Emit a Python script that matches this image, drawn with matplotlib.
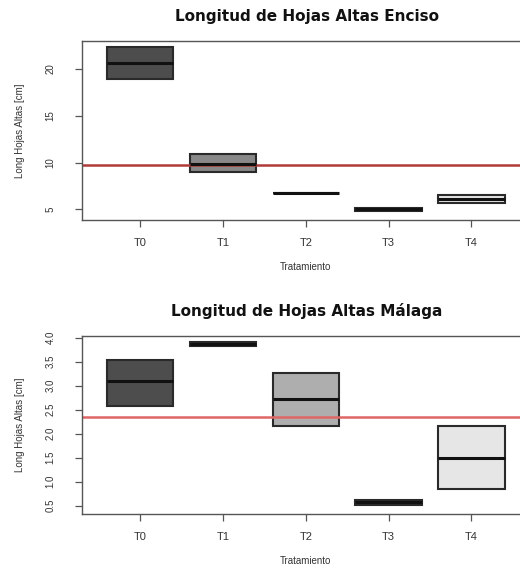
import matplotlib
matplotlib.use('Agg')
from matplotlib import pyplot as plt

plt.rcParams['font.family'] = ['Liberation Sans', 'DejaVu Sans']

# Datos
tratamientos = ['T0', 'T1', 'T2', 'T3', 'T4']
colores = ['#4d4d4d', '#888888', '#aeaeae', '#cccccc', '#e6e6e6']

# Enciso: q1, mediana, q3
enciso_q1 = [18.9, 9.0, 6.8, 4.85, 5.67]
enciso_med = [20.7, 9.9, 6.8, 5.0, 6.14]
enciso_q3 = [22.4, 10.9, 6.8, 5.15, 6.57]
enciso_media = 9.75

# Malaga: q1, mediana, q3
malaga_q1 = [2.57, 3.82, 2.15, 0.52, 0.85]
malaga_med = [3.09, 3.86, 2.72, 0.57, 1.50]
malaga_q3 = [3.54, 3.91, 3.27, 0.62, 2.15]
malaga_media = 2.34


def caja(ax, q1, med, q3, media, color_media, titulo, ylim, yticks, yticklabels, title_y):
    stats = []
    for i in range(len(tratamientos)):
        stats.append({'whislo': q1[i], 'q1': q1[i], 'med': med[i], 'q3': q3[i],
                      'whishi': q3[i], 'label': tratamientos[i]})
    bp = ax.bxp(stats, positions=range(1, 6), widths=0.8, patch_artist=True,
                showfliers=False, showcaps=False,
                boxprops=dict(linewidth=1.5, edgecolor='#2a2a2a'),
                medianprops=dict(color='#111111', linewidth=2.2),
                whiskerprops=dict(linewidth=0))
    for p, c in zip(bp['boxes'], colores):
        p.set_facecolor(c)
    ax.axhline(media, color=color_media, linewidth=1.8)
    ax.set_xlim(0.3, 5.7)
    ax.set_ylim(*ylim)
    ax.set_yticks(yticks)
    ax.set_yticklabels(yticklabels, rotation=90, va='center', fontsize=7, color='#333333')
    ax.set_xticks(range(1, 6))
    ax.set_xticklabels(tratamientos, fontsize=8, color='#333333')
    ax.tick_params(axis='both', direction='out', length=5, width=0.9, color='#555555')
    ax.tick_params(axis='x', pad=8)
    ax.tick_params(axis='y', pad=14)
    for s in ax.spines.values():
        s.set_color('#555555')
        s.set_linewidth(1.0)
    ax.set_xlabel('Tratamiento', fontsize=7, color='#333333', labelpad=10)
    ax.set_ylabel('Long Hojas Altas [cm]', fontsize=7, color='#333333', labelpad=15)
    fig.text(0.59, title_y, titulo, ha='center', va='center', fontsize=11,
             fontweight='bold', color='#111111', family='DejaVu Sans')


fig = plt.figure(figsize=(5.2, 5.66), dpi=100)

ax1 = fig.add_axes([0.158, 0.611, 0.86, 0.3165])
caja(ax1, enciso_q1, enciso_med, enciso_q3, enciso_media, '#b03a3a',
     'Longitud de Hojas Altas Enciso', (3.85, 23.0), [5, 10, 15, 20],
     ['5', '10', '15', '20'], 1 - 16 / 566)

ax2 = fig.add_axes([0.158, 0.092, 0.86, 0.315])
caja(ax2, malaga_q1, malaga_med, malaga_q3, malaga_media, '#e06666',
     'Longitud de Hojas Altas Málaga', (0.33, 4.04),
     [0.5, 1.0, 1.5, 2.0, 2.5, 3.0, 3.5, 4.0],
     ['0.5', '1.0', '1.5', '2.0', '2.5', '3.0', '3.5', '4.0'], 1 - 311 / 566)

plt.savefig('out.png', dpi=100)
